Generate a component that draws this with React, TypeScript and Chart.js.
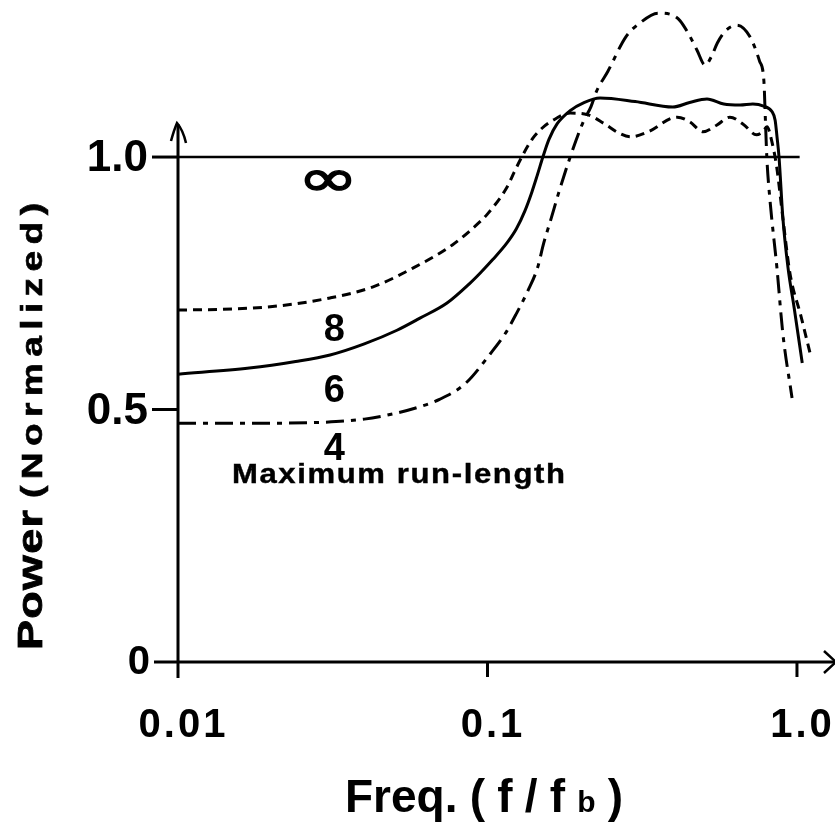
import { useEffect, useRef } from "react";
import { Chart, registerables } from "chart.js";

Chart.register(...registerables);

const W = 835;
const H = 822;

// ---- data: maximum run-length 8 (short dashes)
const run8Freq = [0.01, 0.015, 0.021, 0.031, 0.0427, 0.0574, 0.077, 0.0946, 0.0996, 0.1156, 0.122, 0.129, 0.14, 0.15, 0.162, 0.185, 0.21, 0.24, 0.265, 0.29, 0.33, 0.41, 0.45, 0.497, 0.55, 0.607, 0.67, 0.74, 0.775, 0.8, 0.83, 0.86, 0.9, 0.949, 1.03, 1.11];
const run8Power = [0.697, 0.699, 0.705, 0.721, 0.743, 0.78, 0.826, 0.872, 0.886, 0.94, 0.97, 1.0, 1.037, 1.057, 1.072, 1.087, 1.084, 1.065, 1.048, 1.04, 1.05, 1.079, 1.07, 1.05, 1.063, 1.079, 1.065, 1.044, 1.05, 1.06, 1.03, 0.98, 0.88, 0.77, 0.685, 0.604];

// ---- data: maximum run-length 6 (solid)
const run6Freq = [0.01, 0.017, 0.024, 0.031, 0.04, 0.051, 0.0605, 0.074, 0.0877, 0.0946, 0.104, 0.1156, 0.124, 0.132, 0.139, 0.145, 0.151, 0.158, 0.168, 0.185, 0.205, 0.231, 0.3, 0.397, 0.45, 0.512, 0.58, 0.655, 0.72, 0.78, 0.83, 0.85, 0.862, 0.875, 0.9, 0.935, 0.98, 1.04];
const run6Power = [0.57, 0.582, 0.595, 0.608, 0.63, 0.657, 0.681, 0.711, 0.75, 0.77, 0.797, 0.83, 0.858, 0.893, 0.93, 0.965, 1.0, 1.035, 1.066, 1.092, 1.108, 1.117, 1.11, 1.099, 1.108, 1.115, 1.105, 1.103, 1.105, 1.101, 1.09, 1.073, 1.04, 1.0, 0.881, 0.782, 0.7, 0.592];

// ---- data: maximum run-length 4 (dash-dot)
const run4Freq = [0.01, 0.015, 0.02, 0.03, 0.04, 0.05, 0.06, 0.07, 0.085, 0.102, 0.114, 0.124, 0.135, 0.145, 0.152, 0.16, 0.17, 0.185, 0.204, 0.216, 0.225, 0.245, 0.28, 0.31, 0.356, 0.4, 0.419, 0.45, 0.475, 0.505, 0.53, 0.553, 0.59, 0.64, 0.705, 0.757, 0.782, 0.79, 0.799, 0.818, 0.861, 0.9, 0.964];
const run4Power = [0.473, 0.473, 0.473, 0.475, 0.481, 0.492, 0.505, 0.52, 0.552, 0.61, 0.65, 0.69, 0.735, 0.78, 0.83, 0.875, 0.93, 1.0, 1.07, 1.1, 1.13, 1.17, 1.238, 1.265, 1.285, 1.28, 1.27, 1.24, 1.212, 1.182, 1.2, 1.226, 1.251, 1.261, 1.238, 1.19, 1.15, 1.08, 1.0, 0.915, 0.782, 0.651, 0.523];

// ---- data: infinite run-length (flat)
const runInfFreq = [0.01, 1.02];
const runInfPower = [1.0, 1.0];

// ---- ticks and labels
const xTickValues = [0.01, 0.1, 1.0];
const xTickLabels = ["0.01", "0.1", "1.0"];
const yTickValues = [0, 0.5, 1.0];
const yTickLabels = ["0", "0.5", "1.0"];
const seriesNames = ["\u221E", "8", "6", "4"];
const seriesNote = "Maximum run-length";

// annotation anchors (data coordinates)
const nameAnchorFreq = [0.0305, 0.032, 0.032, 0.032];
const nameAnchorPower = [0.95, 0.661, 0.54, 0.424];
const noteAnchor = { freq: 0.01494, power: 0.355 };

const FONT = "'Liberation Sans', Arial, Helvetica, sans-serif";

function toPoints(xs: number[], ys: number[]) {
  return xs.map((x, i) => ({ x, y: ys[i] }));
}

type Seg = { t: string; font: string };

function drawRun(
  ctx: CanvasRenderingContext2D,
  segs: Seg[],
  x0: number,
  x1: number,
  y: number,
  stretch = 1,
  stroke = 0
) {
  const widths = segs.map((s) => {
    ctx.font = s.font;
    return ctx.measureText(s.t).width * stretch;
  });
  const sum = widths.reduce((a, b) => a + b, 0);
  const gap = segs.length > 1 ? (x1 - x0 - sum) / (segs.length - 1) : 0;
  let x = x0;
  ctx.textAlign = "left";
  segs.forEach((s, i) => {
    ctx.font = s.font;
    ctx.save();
    ctx.translate(x, y);
    ctx.scale(stretch, 1);
    ctx.fillText(s.t, 0, 0);
    if (stroke > 0) {
      ctx.lineWidth = stroke;
      ctx.strokeStyle = "#000";
      ctx.strokeText(s.t, 0, 0);
    }
    ctx.restore();
    x += widths[i] + gap;
  });
}

function chars(text: string, font: string): Seg[] {
  return text.split("").map((t) => ({ t, font }));
}

const paperPlugin = {
  id: "paper",
  beforeDraw(chart: any) {
    const ctx = chart.ctx as CanvasRenderingContext2D;
    ctx.save();
    ctx.fillStyle = "#ffffff";
    ctx.fillRect(0, 0, chart.width, chart.height);
    ctx.restore();
  },
  beforeDatasetsDraw(chart: any) {
    const ctx = chart.ctx as CanvasRenderingContext2D;
    const xs = chart.scales.x;
    const ys = chart.scales.y;
    const ax = xs.getPixelForValue(xTickValues[0]);
    const ay = ys.getPixelForValue(0);
    ctx.save();
    ctx.strokeStyle = "#000";
    ctx.lineWidth = 3;
    ctx.lineCap = "butt";
    // y axis
    ctx.beginPath();
    ctx.moveTo(ax, ay + 16);
    ctx.lineTo(ax, 124);
    ctx.stroke();
    // y arrow
    ctx.lineWidth = 2.5;
    ctx.beginPath();
    ctx.moveTo(ax - 7, 141);
    ctx.quadraticCurveTo(ax - 4, 130, ax - 1, 123);
    ctx.quadraticCurveTo(ax + 5, 130, ax + 8, 143);
    ctx.stroke();
    // x axis
    ctx.lineWidth = 3;
    ctx.beginPath();
    ctx.moveTo(ax - 24, ay);
    ctx.lineTo(chart.width, ay);
    ctx.stroke();
    // x arrow
    ctx.lineWidth = 2.5;
    ctx.beginPath();
    ctx.moveTo(chart.width - 11, ay - 11);
    ctx.lineTo(chart.width + 1, ay);
    ctx.lineTo(chart.width - 11, ay + 11);
    ctx.stroke();
    // x ticks
    ctx.lineWidth = 3;
    xTickValues.slice(1).forEach((v) => {
      const px = xs.getPixelForValue(v);
      ctx.beginPath();
      ctx.moveTo(px, ay);
      ctx.lineTo(px, ay + 15);
      ctx.stroke();
    });
    // y ticks
    yTickValues.slice(1).forEach((v) => {
      const py = ys.getPixelForValue(v);
      ctx.beginPath();
      ctx.moveTo(ax - 26, py);
      ctx.lineTo(ax, py);
      ctx.stroke();
    });
    ctx.restore();
  },
  afterDatasetsDraw(chart: any) {
    const ctx = chart.ctx as CanvasRenderingContext2D;
    const xs = chart.scales.x;
    const ys = chart.scales.y;
    const ax = xs.getPixelForValue(xTickValues[0]);
    const ay = ys.getPixelForValue(0);
    ctx.save();
    ctx.fillStyle = "#000";
    // y tick labels
    ctx.textAlign = "right";
    ctx.textBaseline = "middle";
    yTickValues.forEach((v, i) => {
      const py = ys.getPixelForValue(v);
      if (i === 0) {
        ctx.font = `bold 40px ${FONT}`;
        ctx.fillText(yTickLabels[i], ax - 28, py + 1);
      } else {
        ctx.font = `900 44px ${FONT}`;
        ctx.fillText(yTickLabels[i], ax - 30, py + 2);
      }
    });
    // x tick labels
    ctx.textBaseline = "alphabetic";
    xTickValues.forEach((v, i) => {
      const px = xs.getPixelForValue(v);
      const font = `bold 40px ${FONT}`;
      ctx.font = font;
      const segs = chars(xTickLabels[i], font);
      const natural = ctx.measureText(xTickLabels[i]).width;
      const span = natural + 3 * (segs.length - 1);
      drawRun(ctx, segs, px + 4 - span / 2, px + 4 + span / 2, ay + 75);
    });
    // x title
    const big = `bold 46px ${FONT}`;
    const sub = `bold 30px ${FONT}`;
    drawRun(
      ctx,
      [
        { t: "Freq.", font: big },
        { t: "(", font: big },
        { t: "f", font: big },
        { t: "/", font: big },
        { t: "f", font: big },
        { t: "b", font: sub },
        { t: ")", font: big },
      ],
      345,
      623,
      812
    );
    // y title
    ctx.save();
    ctx.translate(42, 650);
    ctx.rotate(-Math.PI / 2);
    drawRun(ctx, chars("Power", `bold 35px ${FONT}`), 0, 140, 0, 1.28, 0.8);
    drawRun(ctx, chars("(Normalized)", `bold 29px ${FONT}`), 152, 447, 0, 1.28, 0.6);
    ctx.restore();
    // series names
    ctx.textAlign = "center";
    ctx.textBaseline = "middle";
    seriesNames.forEach((name, i) => {
      const px = xs.getPixelForValue(nameAnchorFreq[i]);
      const py = ys.getPixelForValue(nameAnchorPower[i]);
      if (i === 0) {
        ctx.save();
        ctx.translate(px, py);
        ctx.scale(1.25, 0.9);
        ctx.font = `58px 'DejaVu Sans', ${FONT}`;
        ctx.fillText(name, 0, 0);
        ctx.lineWidth = 1.5;
        ctx.strokeStyle = "#000";
        ctx.strokeText(name, 0, 0);
        ctx.restore();
      } else {
        ctx.font = `bold 38px ${FONT}`;
        ctx.fillText(name, px, py + 2);
      }
    });
    // note
    ctx.textBaseline = "alphabetic";
    const nx = xs.getPixelForValue(noteAnchor.freq);
    const ny = ys.getPixelForValue(noteAnchor.power);
    drawRun(ctx, chars(seriesNote, `bold 27px ${FONT}`), nx, nx + 333, ny, 1.15, 0.4);
    ctx.restore();
  },
};

export default function App() {
  const ref = useRef<HTMLCanvasElement | null>(null);
  useEffect(() => {
    if (!ref.current) return;
    const line = { borderColor: "#000", borderWidth: 3, pointRadius: 0, fill: false, cubicInterpolationMode: "monotone" as const };
    const chart = new Chart(ref.current, {
      type: "line",
      data: {
        datasets: [
          { ...line, label: seriesNames[0], data: toPoints(runInfFreq, runInfPower), borderWidth: 2.5 },
          { ...line, label: seriesNames[1], data: toPoints(run8Freq, run8Power), borderDash: [9, 6] },
          { ...line, label: seriesNames[2], data: toPoints(run6Freq, run6Power) },
          { ...line, label: seriesNames[3], data: toPoints(run4Freq, run4Power), borderDash: [18, 7, 5, 7] },
        ],
      },
      options: {
        responsive: false,
        animation: false,
        devicePixelRatio: 1,
        layout: { padding: { left: 178, right: 0, top: 0, bottom: 160 } },
        plugins: { legend: { display: false }, tooltip: { enabled: false } },
        scales: {
          x: { type: "logarithmic", min: 0.01, max: 1.327, display: false, bounds: "data" },
          y: { type: "linear", min: 0, max: 1.311, display: false, bounds: "data" },
        },
      },
      plugins: [paperPlugin],
    });
    return () => chart.destroy();
  }, []);
  return (
    <canvas
      ref={ref}
      width={W}
      height={H}
      style={{ position: "absolute", left: 0, top: 0, width: W, height: H }}
    />
  );
}
